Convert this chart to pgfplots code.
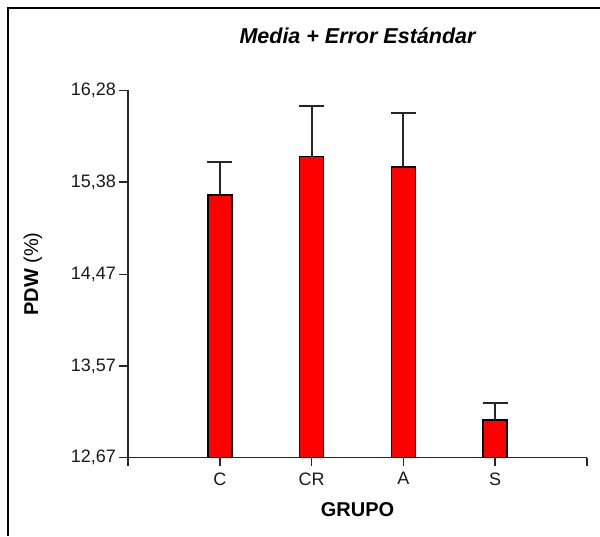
\documentclass[border=0pt]{standalone}
\usepackage{pgfplots}
\pgfplotsset{compat=1.18}
\usepackage{fontspec}
\setmainfont{Liberation Sans}
\begin{document}
\begin{tikzpicture}[x=1pt,y=1pt]
\path[use as bounding box] (-128,-78.5) rectangle (472,457.5);
\draw[line width=2pt] (-120,-78.5) -- (-120,449) -- (472,449);
\begin{axis}[
  at={(0,0)}, anchor=south west,
  scale only axis, width=459pt, height=367pt,
  xmin=0, xmax=5, ymin=12.67, ymax=16.28,
  axis lines*=left,
  axis line style={line width=1.8pt, black!85},
  ybar, bar width=24pt,
  xtick={0,1,2,3,4,5}, xticklabels={,C,CR,A,S,},
  ytick={12.67,13.57,14.47,15.38,16.28},
  yticklabels={{12,67},{13,57},{14,47},{15,38},{16,28}},
  tick align=outside, major tick length=8.5pt,
  tick style={line width=1.6pt, black!85},
  ticklabel style={font=\fontsize{18}{18}\selectfont, text=black!90},
  xticklabel style={yshift=-3pt},
  title={Media + Error Estándar},
  title style={at={(axis description cs:0.5,1.132)}, anchor=center, font=\fontsize{21.5}{21.5}\selectfont\bfseries\itshape},
  xlabel={GRUPO},
  xlabel style={at={(axis description cs:0.5,-0.143)}, anchor=center, font=\fontsize{20}{20}\selectfont\bfseries},
  ylabel={\textbf{PDW} (\%)},
  ylabel style={at={(axis description cs:-0.207,0.5)}, anchor=center, rotate=0, font=\fontsize{20}{20}\selectfont},
]
\addplot[fill=red, draw=black, line width=1.8pt,
  error bars/.cd, y dir=plus, y explicit,
  error bar style={line width=2pt, black!85},
  error mark options={rotate=90, line width=2pt, mark size=12.5pt, black!85}]
  coordinates {
  (1,15.25) +- (0,0.33)
  (2,15.63) +- (0,0.50)
  (3,15.53) +- (0,0.53)
  (4,13.04) +- (0,0.17)
  };
\end{axis}
\end{tikzpicture}
\end{document}
